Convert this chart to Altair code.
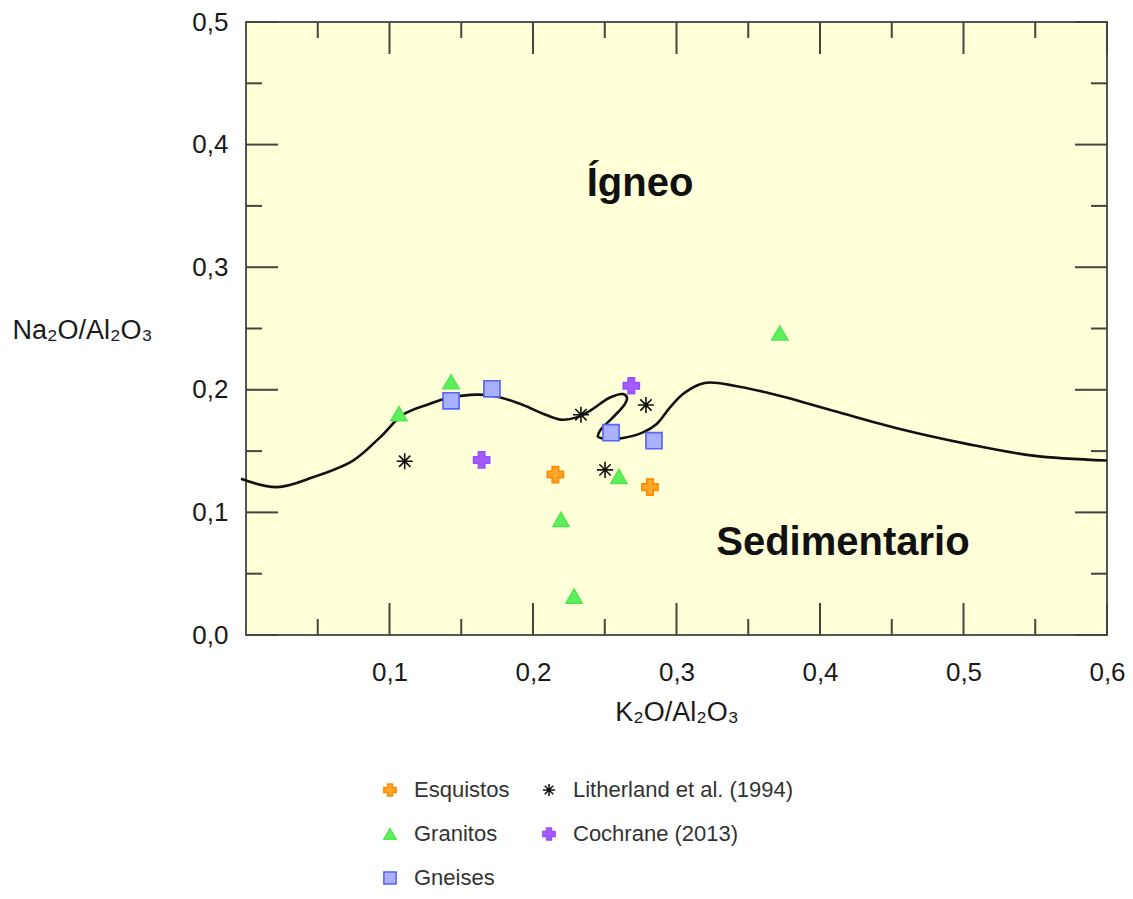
import altair as alt
import pandas as pd

# ---------------- data ----------------
series_names = ["Esquistos", "Granitos", "Gneises", "Litherland et al. (1994)", "Cochrane (2013)"]

esq_x = [0.2156, 0.2815]
esq_y = [0.1309, 0.1206]

gra_x = [0.1066, 0.1429, 0.2195, 0.2286, 0.2599, 0.3720]
gra_y = [0.1805, 0.2065, 0.0943, 0.0317, 0.1293, 0.2463]

gne_x = [0.1429, 0.1714, 0.2544, 0.2843]
gne_y = [0.1910, 0.2008, 0.1650, 0.1585]

lit_x = [0.1106, 0.2334, 0.2502, 0.2787]
lit_y = [0.1417, 0.1797, 0.1347, 0.1876]

coc_x = [0.1642, 0.2685]
coc_y = [0.1428, 0.2033]

curve_x = [-0.0035, 0.0214, 0.0467, 0.0746, 0.0934, 0.1094, 0.1282, 0.1399, 0.1561,
           0.1721, 0.1909, 0.2070, 0.2200, 0.2304, 0.2397, 0.2537, 0.2627, 0.2655,
           0.2641, 0.2557, 0.2467, 0.2453, 0.2514, 0.2627, 0.2767, 0.2862, 0.2955,
           0.3045, 0.3164, 0.3233, 0.3628, 0.4091, 0.4557, 0.5022, 0.5484, 0.5998]
curve_y = [0.1274, 0.1206, 0.1287, 0.1423, 0.1612, 0.1797, 0.1886, 0.1931, 0.1959,
           0.1951, 0.1886, 0.1805, 0.1756, 0.1775, 0.1829, 0.1937, 0.1965, 0.1937,
           0.1886, 0.1775, 0.1667, 0.1618, 0.1599, 0.1607, 0.1653, 0.1721, 0.1856,
           0.1965, 0.2046, 0.2059, 0.1978, 0.1829, 0.1680, 0.1559, 0.1463, 0.1423]

x_ticks_major = [0.1, 0.2, 0.3, 0.4, 0.5, 0.6]
x_ticks_minor = [0.05, 0.15, 0.25, 0.35, 0.45, 0.55]
y_ticks_major = [0.0, 0.1, 0.2, 0.3, 0.4, 0.5]
y_ticks_minor = [0.05, 0.15, 0.25, 0.35, 0.45]

region_text = ["Ígneo", "Sedimentario"]
region_x = [0.2746, 0.4160]
region_y = [0.3675, 0.0748]

# ---------------- tables ----------------
rows = []
for name, xs, ys in [("Esquistos", esq_x, esq_y), ("Granitos", gra_x, gra_y),
                     ("Gneises", gne_x, gne_y), ("Litherland et al. (1994)", lit_x, lit_y),
                     ("Cochrane (2013)", coc_x, coc_y)]:
    for a, b in zip(xs, ys):
        rows.append({"x": a, "y": b, "series": name})
pts = pd.DataFrame(rows)
curve = pd.DataFrame({"x": curve_x, "y": curve_y, "o": list(range(len(curve_x)))})
labels_df = pd.DataFrame({"x": region_x, "y": region_y, "t": region_text})

W, H = 861, 613
FONT = "Liberation Sans"

xscale = alt.Scale(domain=[0, 0.6], nice=False, zero=False)
yscale = alt.Scale(domain=[0, 0.5], nice=False, zero=False)

asterisk = "M-1,0L1,0M0,-1L0,1M-0.7,-0.7L0.7,0.7M-0.7,0.7L0.7,-0.7"
shape_range = ["cross", "triangle-up", "square", asterisk, "cross"]
fill_range = ["#FFA62B", "#5CEF5C", "#A9B1FF", "transparent", "#A35AFF"]
stroke_range = ["#FF8A00", "#52E852", "#5565F5", "#111111", "#9850FF"]

legend = alt.Legend(title=None, orient="none", legendX=133, legendY=757, columns=2,
                    columnPadding=28, rowPadding=22, labelFontSize=22, labelColor="#333333",
                    labelFont=FONT, symbolSize=150, labelOffset=13, padding=0, labelLimit=0,
                    symbolStrokeWidth=1.5)

x_axis = alt.Axis(values=x_ticks_major, format=".1f", labelExpr="replace(datum.label, '.', ',')",
                  ticks=False, domain=False, grid=False, labelPadding=24, labelFontSize=26,
                  labelFlush=False, labelColor="#1a1a1a", title="K₂O/Al₂O₃", titleFontSize=27,
                  titleFontWeight="normal", titleColor="#1a1a1a", titleY=77, titleBaseline="middle",
                  labelFont=FONT, titleFont=FONT)
y_axis = alt.Axis(values=y_ticks_major, format=".1f", labelExpr="replace(datum.label, '.', ',')",
                  ticks=False, domain=False, grid=False, labelPadding=18, labelFontSize=26,
                  labelFlush=False, labelColor="#1a1a1a", title="Na₂O/Al₂O₃", titleFontSize=27,
                  titleFontWeight="normal", titleColor="#1a1a1a", titleAngle=0, titleAlign="left",
                  titleBaseline="middle", titleX=-234, titleY=308, labelFont=FONT, titleFont=FONT)

line = alt.Chart(curve).mark_line(color="#111111", strokeWidth=2.6, interpolate="catmull-rom",
                                  clip=False).encode(
    x=alt.X("x:Q", scale=xscale, axis=x_axis),
    y=alt.Y("y:Q", scale=yscale, axis=y_axis),
    order="o:Q",
)

def vt(vals, length, side):
    df = pd.DataFrame({"v": vals})
    m = alt.Chart(df).mark_rule(color="#444444", strokeWidth=2)
    if side == "left":
        return m.encode(y=alt.Y("v:Q", scale=yscale, axis=y_axis), x=alt.value(0), x2=alt.value(length))
    if side == "right":
        return m.encode(y=alt.Y("v:Q", scale=yscale, axis=y_axis), x=alt.value(W), x2=alt.value(W - length))
    if side == "top":
        return m.encode(x=alt.X("v:Q", scale=xscale, axis=x_axis), y=alt.value(0), y2=alt.value(length))
    return m.encode(x=alt.X("v:Q", scale=xscale, axis=x_axis), y=alt.value(H), y2=alt.value(H - length))

ticks = [vt(y_ticks_major, 32, "left"), vt(y_ticks_minor, 16, "left"),
         vt(y_ticks_major, 32, "right"), vt(y_ticks_minor, 16, "right"),
         vt(x_ticks_major, 32, "top"), vt(x_ticks_minor, 16, "top"),
         vt(x_ticks_major, 32, "bottom"), vt(x_ticks_minor, 16, "bottom")]

points = alt.Chart(pts).mark_point(opacity=1, strokeWidth=1.6, size=260).encode(
    x=alt.X("x:Q", scale=xscale, axis=x_axis),
    y=alt.Y("y:Q", scale=yscale, axis=y_axis),
    shape=alt.Shape("series:N", scale=alt.Scale(domain=series_names, range=shape_range), legend=legend),
    fill=alt.Fill("series:N", scale=alt.Scale(domain=series_names, range=fill_range), legend=legend),
    stroke=alt.Stroke("series:N", scale=alt.Scale(domain=series_names, range=stroke_range), legend=legend),
)

texts = alt.Chart(labels_df).mark_text(font=FONT, fontSize=40, fontWeight="bold", color="#111111",
                                       align="center", baseline="middle").encode(
    x=alt.X("x:Q", scale=xscale, axis=x_axis),
    y=alt.Y("y:Q", scale=yscale, axis=y_axis),
    text="t:N",
)

chart = alt.layer(line, *ticks, points, texts).properties(
    width=W, height=H,
    autosize=alt.AutoSizeParams(type="none"),
    padding={"left": 238, "top": 14, "right": 18, "bottom": 256},
    background="white",
).configure_view(
    fill="#FFFFD8", stroke="#555555", strokeWidth=2
)

chart.save("out.html", embed_options={"renderer": "svg", "actions": False})
